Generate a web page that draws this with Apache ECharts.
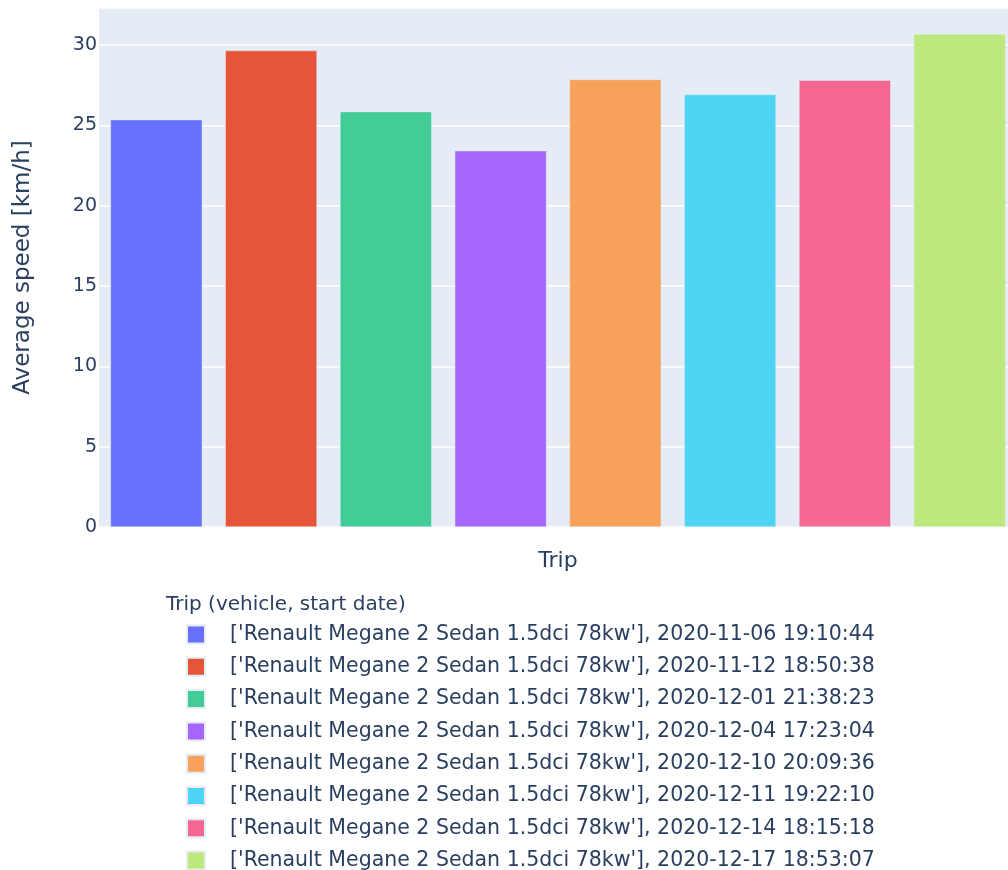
<!DOCTYPE html>
<html>
<head>
<meta charset="utf-8">
<script src="https://cdn.jsdelivr.net/npm/echarts@6/dist/echarts.min.js"></script>
<style>
  html, body { margin: 0; padding: 0; background: #fff; }
  #chart { width: 1008px; height: 870px; }
</style>
</head>
<body>
<div id="chart"></div>
<script>
// trips (legend labels) and average speeds
var trips = [
  "['Renault Megane 2 Sedan 1.5dci 78kw'], 2020-11-06 19:10:44",
  "['Renault Megane 2 Sedan 1.5dci 78kw'], 2020-11-12 18:50:38",
  "['Renault Megane 2 Sedan 1.5dci 78kw'], 2020-12-01 21:38:23",
  "['Renault Megane 2 Sedan 1.5dci 78kw'], 2020-12-04 17:23:04",
  "['Renault Megane 2 Sedan 1.5dci 78kw'], 2020-12-10 20:09:36",
  "['Renault Megane 2 Sedan 1.5dci 78kw'], 2020-12-11 19:22:10",
  "['Renault Megane 2 Sedan 1.5dci 78kw'], 2020-12-14 18:15:18",
  "['Renault Megane 2 Sedan 1.5dci 78kw'], 2020-12-17 18:53:07"
];
var speeds = [25.35, 29.65, 25.85, 23.42, 27.85, 26.92, 27.8, 30.68];
var colors = ['#6670fa', '#e75538', '#43cd96', '#a865fc', '#f8a15a', '#4dd4f3', '#f66792', '#bce87c'];

var txt = '#2a3f5f';
var font = 'DejaVu Sans, Verdana, sans-serif';

var chart = echarts.init(document.getElementById('chart'));

// one series per trip, each sitting in its own slot
var series = trips.map(function (name, i) {
  var data = trips.map(function (t, j) { return j === i ? speeds[i] : '-'; });
  return {
    name: name,
    type: 'bar',
    stack: 'trip',
    barWidth: '80%',
    data: data,
    itemStyle: { color: colors[i], borderColor: '#E5ECF6', borderWidth: 0.5 }
  };
});

chart.setOption({
  animation: false,
  color: colors,
  textStyle: { fontFamily: font },
  title: {
    text: 'Trip (vehicle, start date)',
    left: 161,
    top: 590,
    textStyle: { fontSize: 20, fontWeight: 'normal', color: txt, fontFamily: font }
  },
  legend: {
    orient: 'vertical',
    left: 181,
    top: 619,
    height: 400,
    itemWidth: 18,
    itemHeight: 18,
    itemGap: 11.3,
    icon: 'rect',
    textStyle: { fontSize: 20.5, color: txt, fontFamily: font, padding: [0, 0, 0, 20] },
    data: trips
  },
  grid: {
    left: 99,
    width: 918,
    top: 8,
    bottom: 343,
    outerBoundsMode: 'none',
    containLabel: false,
    show: true,
    backgroundColor: '#E5ECF6',
    borderWidth: 0
  },
  xAxis: {
    type: 'category',
    data: trips.map(function (t, i) { return 'trip' + i; }),
    axisLabel: { show: false },
    axisTick: { show: false },
    axisLine: { show: false },
    name: 'Trip',
    nameLocation: 'middle',
    nameGap: 23,
    nameTextStyle: { fontSize: 22, color: txt, fontFamily: font }
  },
  yAxis: {
    type: 'value',
    min: 0,
    max: 32.3,
    interval: 5,
    axisLine: { show: false },
    axisTick: { show: false },
    splitLine: { lineStyle: { color: '#ffffff', width: 1.5 } },
    axisLabel: {
      fontSize: 19,
      color: txt,
      margin: 2,
      showMaxLabel: false,
      formatter: function (v) { return v % 5 === 0 ? String(v) : ''; }
    },
    name: 'Average speed [km/h]',
    nameLocation: 'middle',
    nameGap: 64,
    nameTextStyle: { fontSize: 23, color: txt, fontFamily: font }
  },
  series: series
});
</script>
</body>
</html>
